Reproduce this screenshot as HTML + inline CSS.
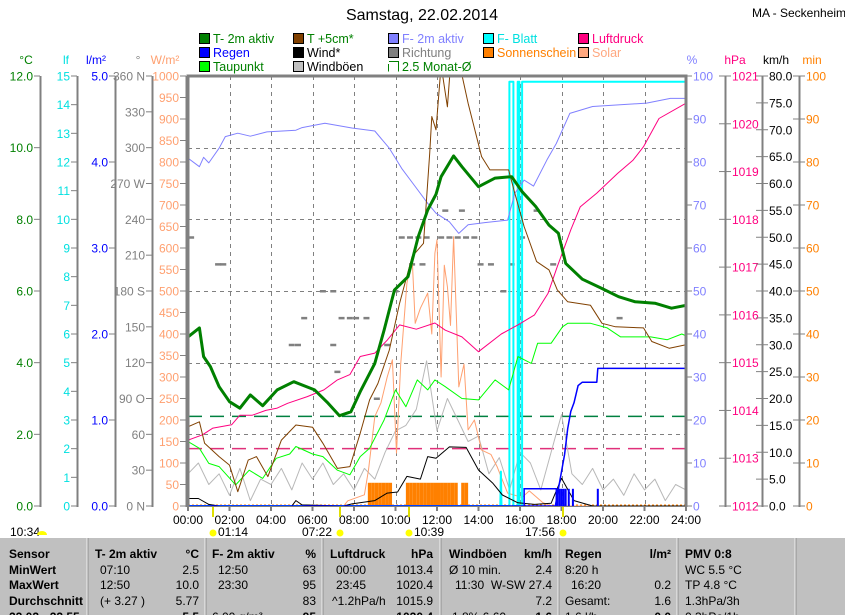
<!DOCTYPE html>
<html><head><meta charset="utf-8"><title>Samstag, 22.02.2014</title>
<style>
html,body{margin:0;padding:0;background:#fff;}
svg{display:block;font-family:"Liberation Sans",sans-serif;}
</style></head>
<body>
<svg id="chart" width="845" height="615" viewBox="0 0 845 615" xmlns="http://www.w3.org/2000/svg">
<defs><clipPath id="pc"><rect x="188" y="76" width="498" height="430"/></clipPath></defs>
<text x="422" y="20" font-size="16" text-anchor="middle">Samstag, 22.02.2014</text>
<text x="752" y="17" font-size="12">MA - Seckenheim</text>
<g id="legend"></g>
<g id="axes"></g>
<g id="plot"></g>
<g id="table"></g>
</svg>
<script>
// ---- data ----
const tempTime=[0,0.55,0.75,1.08,1.5,2,2.5,3,3.6,4.3,5.1,6.1,6.75,7.3,7.85,8.3,9,9.45,9.95,10.6,11.1,11.55,11.95,12.2,12.8,13.2,14,14.8,15.6,16.1,16.75,17.4,17.85,18.2,19,19.95,20.75,21.55,22.5,23.3,24];
const tempVal=[4.72,4.97,4.17,3.89,3.33,2.91,2.73,3.1,2.8,3.24,3.47,3.24,2.87,2.52,2.63,3.19,3.98,4.91,6.03,6.4,7.52,8.26,8.7,9.19,9.77,9.47,8.91,9.15,9.19,8.77,8.36,7.84,7.61,6.77,6.33,6.07,5.84,5.7,5.66,5.52,5.6];
const t5Time=[0,0.55,0.8,1.5,2,2.4,2.9,3.3,3.85,4.5,5.2,6,6.5,7.2,7.8,8.3,8.75,9.15,9.7,10.2,10.8,11.35,11.65,11.75,11.95,12.2,12.5,12.65,13.1,13.5,14.15,14.55,15.45,15.75,16.2,16.8,17.4,17.8,18.3,19.4,19.95,20.6,21.95,22.35,23.2,24];
const t5Val=[2.21,2.35,1.75,1.38,1.14,0.4,1.28,1.38,0.82,1.84,2.26,2.2,1.75,1.05,1.1,2.03,2.96,3.42,4.35,5.66,6.96,7.33,9.84,10.87,10.5,12.3,11.14,12.3,12.3,11.24,9.75,9.38,9.38,8.73,7.8,6.82,6.59,6.03,5.7,5.6,5.1,5.0,4.97,4.59,4.4,4.5];
const humTime=[0,0.55,0.75,1.0,1.5,1.8,2.4,3.0,3.8,5.2,5.5,6.6,7.9,9.0,9.7,10.3,10.95,11.55,11.95,12.6,13.05,13.5,14.3,15.4,15.75,16.2,16.65,17.3,17.75,18.4,19.5,22.1,23.25,24];
const humVal=[80.9,78.9,81.1,79.8,83.2,85.9,86.7,86.0,87,87.4,88,89,87.9,87.2,83.2,78.5,74.3,70.4,68.1,66.1,63.4,65.4,65.9,66.5,72.7,75.8,74.4,80.5,84.3,91.3,92.9,93.7,94.8,94.8];
const presTime=[0,0.7,1.2,2.1,2.5,3.1,3.75,4.3,4.8,5.75,6.55,7.2,7.8,8.3,9.0,9.6,10.2,11.0,11.9,12.4,13.2,14.0,15.1,15.9,16.7,17.35,17.8,18.45,18.9,19.7,20.7,21.45,21.95,22.7,24];
const presVal=[1013.38,1013.49,1013.63,1013.7,1013.9,1013.9,1014.0,1014.05,1014.15,1014.29,1014.43,1014.64,1014.75,1015.13,1015.2,1015.47,1015.79,1015.7,1015.83,1015.68,1015.54,1015.23,1015.6,1015.79,1016.0,1016.45,1017.01,1017.78,1018.26,1018.55,1018.96,1019.24,1019.52,1020.11,1020.43];
const dewTime=[0,0.55,1.0,1.5,2.3,2.95,3.6,4.25,4.9,5.2,6.0,6.5,7.2,7.8,8.3,8.75,9.45,10.0,10.5,11.05,11.55,11.9,12.4,13.2,14.0,14.8,15.45,15.9,16.55,16.85,17.5,18.05,18.3,19.4,20.2,20.85,22.3,23.1,23.8,24];
const dewVal=[1.8,1.61,1.19,1.1,0.59,1.0,0.77,1.33,1.45,1.66,1.45,1.38,1.0,0.87,1.38,1.61,2.4,3.24,2.77,3.52,3.24,3.52,3.33,3.0,2.96,3.52,3.24,4.17,3.98,4.54,4.54,5.0,5.1,5.1,4.97,4.72,4.72,4.64,4.8,4.75];
const windTime=[0,0.5,1.0,1.5,5.0,5.2,5.5,7.5,7.9,9.0,9.6,10.1,10.55,11.2,11.55,11.95,12.6,13.4,14.0,14.7,15.15,15.9,16.7,17.5,18.0,18.6,19.5,24];
const windVal=[1.4,1.4,0.3,0,0,1.0,0.2,0,0.4,1.0,2.4,2.6,5.5,5.0,9.2,8.9,11.0,10.9,6.7,4.2,2.05,0.6,0.3,0.5,5.15,1.0,0,0];
const gustVal=[6,8,4,6,2,7,1,5,4,7,3,8,5,8,4,6,3,7,5,10,14,15,18,27,14,20,16,12,13,6,9,3,10,8,3,10,17,6,4,7,3,5,2,6,3,5,1,4,3];
const solarTime=[0,7.5,7.7,8.5,8.7,9.0,9.3,9.6,9.85,10.05,10.25,10.55,10.8,10.95,11.2,11.55,11.75,11.9,12.0,12.2,12.35,12.5,12.65,12.8,13.05,13.3,13.5,13.8,14.15,14.6,14.9,15.4,16.1,16.45,17.1,17.5,24];
const solarVal=[0,0,12,26,84,208,240,300,340,123,330,518,580,425,460,495,400,588,619,300,560,510,420,626,277,330,177,200,130,120,91,30,20,35,8,0,0];
const sunSlot=[52,53,54,55,56,57,58,63,64,65,66,67,68,69,70,71,72,73,74,75,76,77,79,80];
const sunMin=[5.4,5.4,5.4,5.4,5.4,5.4,5.4,5.4,5.4,5.4,5.4,5.4,5.4,5.4,5.4,5.4,5.4,5.4,5.4,5.4,5.4,5.4,5.4,5.4];
const rainTime=[0,17.7,17.85,18.0,18.15,18.3,18.45,18.6,18.8,19.0,19.7,19.75,24];
const rainVal=[0,0,0.2,0.4,0.6,0.9,1.1,1.2,1.4,1.44,1.44,1.6,1.6];
const rainBarTime=[17.8,17.9,18.0,18.1,18.2,18.35,18.55,19.75];
const rainBarVal=[0.2,0.2,0.2,0.2,0.2,0.2,0.2,0.2];
const leafTime=[0,15.05,15.08,15.11,15.49,15.49,15.68,15.68,15.89,15.89,15.97,15.97,16.1,16.1,24];
const leafVal=[0,0,1.2,0,0,14.8,14.8,0,0,14.8,14.8,0,0,14.8,14.8];
const dirTime=[0.15,1.45,1.7,5.6,6.5,7.0,7.4,5.0,5.3,7.0,7.8,8.1,8.6,7.2,10.3,10.7,11.1,11.5,10.8,11.3,10.0,12.2,12.6,13.0,13.4,13.8,14.1,14.6,15.6,13.2,12.4,16.8,15.2,16.1,20.8,9.1,17.6,9.6];
const dirDeg=[225,202.5,202.5,157.5,180,180,157.5,135,135,135,157.5,157.5,157.5,112.5,225,225,225,225,202.5,202.5,180,225,225,225,225,225,202.5,202.5,202.5,247.5,247.5,247.5,180,225,157.5,90,202.5,135];
const avgTemp=[2.5];
const avgPres=[1013.2];
const hourTicks=["00:00","02:00","04:00","06:00","08:00","10:00","12:00","14:00","16:00","18:00","20:00","22:00","24:00"];

// ---- scales ----
const L=188,R=686,T=76,B=506,H=B-T;
const X=h=>L+h*(R-L)/24;
const lin=(v,a,b)=>B-(v-a)/(b-a)*H;
const yC=v=>lin(v,0,12), yLf=v=>lin(v,0,15), yRn=v=>lin(v,0,5), yDeg=v=>lin(v,0,360),
      yW=v=>lin(v,0,1000), yPct=v=>lin(v,0,100), yP=v=>lin(v,1012,1021), yK=v=>lin(v,0,80), yM=v=>lin(v,0,100);
const NS="http://www.w3.org/2000/svg";
function mk(tag,attrs,parent,text){const e=document.createElementNS(NS,tag);for(const k in attrs)e.setAttribute(k,attrs[k]);if(text!==undefined)e.textContent=text;parent.appendChild(e);return e;}
const axes=document.getElementById('axes'),plot=document.getElementById('plot'),legend=document.getElementById('legend'),table=document.getElementById('table');

// ---- legend ----
const legItems=[["T- 2m aktiv","#008000","#008000",0,0],["T +5cm*","#804000","#008000",1,0],["F- 2m aktiv","#8080ff","#8080ff",2,0],["F- Blatt","#00ffff","#00e0e0",3,0],["Luftdruck","#ff0080","#ff0080",4,0],
["Regen","#0000ff","#0000ff",0,1],["Wind*","#000000","#000",1,1],["Richtung","#808080","#808080",2,1],["Sonnenschein","#ff8000","#ff8000",3,1],["Solar","#ffa880","#ffa880",4,1],
["Taupunkt","#00ff00","#008000",0,2],["Windböen","#c0c0c0","#000",1,2],["2.5 Monat-Ø",null,"#008000",2,2]];
const colX=[199,293,388,483,578];
legItems.forEach(it=>{
  const g=mk('g',{},legend);
  
  
  const x=colX[it[3]],y=33+it[4]*14;
  if(it[1]) mk('rect',{x:x+0.5,y:y+0.5,width:10,height:10,fill:it[1],stroke:'#000'},g);
  else mk('path',{d:`M${x+1},${y+0.5}H${x+10.5}V${y+10.5}M${x+0.5},${y+3}V${y+10.5}`,fill:'none',stroke:'#008000'},g);
  mk('text',{x:x+14,y:y+10,'font-size':12.5,fill:it[2]},g,it[0]);
});

// ---- axes ----
function leftAxis(x,ymap,vals,fmt,color,title,tx,name){
  const g=mk('g',{},axes);
  
  
  mk('line',{x1:x+0.5,y1:T,x2:x+0.5,y2:B+1,stroke:'#808080','stroke-width':2},g);
  vals.forEach(v=>{const y=ymap(v);mk('line',{x1:x-6,y1:y,x2:x,y2:y,stroke:'#808080'},g);
    mk('text',{x:x-7,y:y+4.5,'font-size':12,'text-anchor':'end',fill:color},g,fmt(v));});
  mk('text',{x:tx,y:64,'font-size':12,fill:color,'text-anchor':'middle'},g,title);
}
function rightAxis(x,ymap,vals,fmt,color,title,tx,name,tickLeft){
  const g=mk('g',{},axes);
  
  
  mk('line',{x1:x+0.5,y1:T,x2:x+0.5,y2:B+1,stroke:'#808080','stroke-width':2},g);
  vals.forEach(v=>{const y=ymap(v);mk('line',{x1:tickLeft?x-6:x,y1:y,x2:x+6,y2:y,stroke:'#808080'},g);
    mk('text',{x:x+7,y:y+4.5,'font-size':12,fill:color},g,fmt(v));});
  mk('text',{x:tx,y:64,'font-size':12,fill:color,'text-anchor':'middle'},g,title);
}
const rng=(a,b,s)=>{const r=[];for(let v=a;v<=b+1e-9;v+=s)r.push(+v.toFixed(3));return r;};
leftAxis(40,yC,rng(0,12,2),v=>v.toFixed(1),'#008000','°C',26,'celsius-axis');
leftAxis(77,yLf,rng(0,15,1),v=>String(v),'#00e0e0','lf',66,'leaf-wetness-axis');
leftAxis(115,yRn,rng(0,5,1),v=>v.toFixed(1),'#0000ff','l/m²',96,'rain-axis');
const comp={0:'0 N',90:'90 O',180:'180 S',270:'270 W',360:'360 N'};
leftAxis(152,yDeg,rng(0,360,30),v=>comp[v]||String(v),'#808080','°',138,'direction-axis');
leftAxis(186,yW,rng(0,1000,50),v=>String(v),'#ffa070','W/m²',165,'solar-axis');
rightAxis(686,yPct,rng(0,100,10),v=>String(v),'#8080ff','%',692,'humidity-axis',false);
rightAxis(725,yP,rng(1012,1021,1),v=>String(v),'#ff0080','hPa',735,'pressure-axis',true);
rightAxis(762,yK,rng(0,80,5),v=>v.toFixed(1),'#000','km/h',776,'wind-axis',true);
rightAxis(799,yM,rng(0,100,10),v=>String(v),'#ff8000','min',812,'sunshine-axis',true);

// ---- grid ----
const grid=mk('g',{},plot);


for(let i=1;i<6;i++){const y=Math.round(yC(i*2))+0.5;mk('line',{x1:L,y1:y,x2:R,y2:y,stroke:'#808080','stroke-dasharray':'4,4'},grid);}
for(let i=1;i<12;i++){const x=Math.round(X(i*2))+0.5;mk('line',{x1:x,y1:T,x2:x,y2:B,stroke:'#808080','stroke-dasharray':'4,4'},grid);}
hourTicks.forEach((lab,i)=>{const x=X(i*2);
  const t=mk('text',{x:x,y:524,'font-size':12,'text-anchor':'middle'},plot,lab);
  
  
  mk('line',{x1:x,y1:B,x2:x,y2:B+5,stroke:'#808080','stroke-width':2},plot);});

const cp=mk('g',{'clip-path':'url(#pc)'},plot);
function line(ts,vs,ym,color,w,name){
  const d=ts.map((t,i)=>(i?'L':'M')+X(t).toFixed(1)+','+ym(vs[i]).toFixed(1)).join('');
  const p=mk('path',{d:d,fill:'none',stroke:color,'stroke-width':w,'stroke-linejoin':'round'},cp);
  
  
}
// sunshine bars
sunSlot.forEach((s,i)=>{const x0=X(s/6),x1=X((s+1)/6);
  const r=mk('rect',{x:x0,y:yM(sunMin[i]),width:x1-x0,height:B-yM(sunMin[i]),fill:'#ff8000'},cp);
  
  });
mk('line',{x1:L,y1:B-1,x2:R,y2:B-1,stroke:'#ff8000','stroke-dasharray':'2,2'},cp);
// averages
const a1=mk('line',{x1:L,y1:yC(avgTemp[0]),x2:R,y2:yC(avgTemp[0]),stroke:'#008040','stroke-width':1.5,'stroke-dasharray':'14,8'},cp);


const a2=mk('line',{x1:L,y1:yP(avgPres[0]),x2:R,y2:yP(avgPres[0]),stroke:'#e0307a','stroke-width':1.5,'stroke-dasharray':'14,8'},cp);


// direction dashes
dirTime.forEach((t,i)=>{const r=mk('rect',{x:X(t)-3,y:yDeg(dirDeg[i])-1,width:6,height:2.5,fill:'#808080'},cp);
  
  });
line(gustVal.map((v,i)=>i*0.5),gustVal,yK,'#b8b8b8',1,'gust-line');
line(solarTime,solarVal,yW,'#ffa070',1,'solar-line');
line(leafTime,leafVal,yLf,'#00ffff',2,'leaf-wetness-line');
line(windTime,windVal,yK,'#000',1,'wind-line');
// rain rate box + bars
const rb=mk('path',{d:`M${X(16.2)},${B}V${yRn(0.2)}H${X(17.75)}V${B}`,fill:'none',stroke:'#0000ff','stroke-width':1.5},cp);


rainBarTime.forEach((t,i)=>{const r=mk('rect',{x:X(t)-1,y:yRn(rainBarVal[i]),width:2,height:B-yRn(rainBarVal[i]),fill:'#0000ff'},cp);
  
  });
line(rainTime,rainVal,yRn,'#0000ff',1.5,'rain-cumulative-line');
line(dewTime,dewVal,yC,'#00ff00',1,'dewpoint-line');
line(presTime,presVal,yP,'#ff0080',1,'pressure-line');
line(humTime,humVal,yPct,'#8080ff',1,'humidity-line');
line(t5Time,t5Val,yC,'#804000',1,'temp-5cm-line');
line(tempTime,tempVal,yC,'#008000',3,'temp-2m-line');
// border
mk('path',{d:`M${L},${B}V${T}H${R}V${B}`,fill:'none',stroke:'#808080','stroke-width':3},plot);
mk('line',{x1:L,y1:B+0.5,x2:R,y2:B+0.5,stroke:'#808080'},plot);
// sun markers
const mk2=[[213,"01:14",218,'start'],[340,"07:22",332,'end'],[409,"10:39",414,'start'],[563,"17:56",555,'end']];
mk2.forEach(m=>{const g=mk('g',{},plot);
  
  
  mk('rect',{x:m[0]-1,y:B+1,width:2,height:10,fill:'#e0e000'},g);
  mk('circle',{cx:m[0],cy:533,r:3.5,fill:'#ffff00'},g);
  mk('text',{x:m[2],y:536,'font-size':12,'text-anchor':m[3]},g,m[1]);});
const nt=mk('text',{x:10,y:536,'font-size':12},plot,'10:34');


mk('path',{d:'M37,535a5,4 0 0 1 10,0z',fill:'#ffff00'},plot);

// ---- table ----
mk('rect',{x:0,y:538,width:845,height:77,fill:'#c0c0c0'},table);
[87,205,322,440,558,677,795].forEach(x=>{mk('line',{x1:x,y1:538,x2:x,y2:615,stroke:'#f0f0f0'},table);mk('line',{x1:x+1,y1:538,x2:x+1,y2:615,stroke:'#909090'},table);});
const rowsY=[558,574,589,605,621];
const cells=[
 [9,0,'Sensor','start',1],[9,1,'MinWert','start',1],[9,2,'MaxWert','start',1],[9,3,'Durchschnitt','start',1],[9,4,'22.02 - 22.55','start',1],
 [95,0,'T- 2m aktiv','start',1],[199,0,'°C','end',1],[100,1,'07:10','start',0],[199,1,'2.5','end',0],[100,2,'12:50','start',0],[199,2,'10.0','end',0],[100,3,'(+ 3.27 )','start',0],[199,3,'5.77','end',0],[199,4,'5.5','end',1],
 [212,0,'F- 2m aktiv','start',1],[316,0,'%','end',1],[218,1,'12:50','start',0],[316,1,'63','end',0],[218,2,'23:30','start',0],[316,2,'95','end',0],[316,3,'83','end',0],[212,4,'6.00 g/m³','start',0],[316,4,'95','end',1],
 [330,0,'Luftdruck','start',1],[433,0,'hPa','end',1],[336,1,'00:00','start',0],[433,1,'1013.4','end',0],[336,2,'23:45','start',0],[433,2,'1020.4','end',0],[332,3,'^1.2hPa/h','start',0],[433,3,'1015.9','end',0],[433,4,'1020.4','end',1],
 [449,0,'Windböen','start',1],[552,0,'km/h','end',1],[449,1,'Ø 10 min.','start',0],[552,1,'2.4','end',0],[455,2,'11:30','start',0],[552,2,'W-SW 27.4','end',0],[552,3,'7.2','end',0],[452,4,'1.8% 6.60','start',0],[552,4,'1.6','end',1],
 [565,0,'Regen','start',1],[671,0,'l/m²','end',1],[565,1,'8:20 h','start',0],[571,2,'16:20','start',0],[671,2,'0.2','end',0],[565,3,'Gesamt:','start',0],[671,3,'1.6','end',0],[565,4,'1.6 l/h','start',0],[671,4,'0.0','end',1],
 [685,0,'PMV 0:8','start',1],[685,1,'WC 5.5 °C','start',0],[685,2,'TP 4.8 °C','start',0],[685,3,'1.3hPa/3h','start',0],[685,4,'0.3hPa/1h','start',0]];
cells.forEach(c=>{const t=mk('text',{x:c[0],y:rowsY[c[1]],'font-size':12,'text-anchor':c[3],'font-weight':c[4]?'bold':'normal'},table,c[2]);
  
  });
</script>
</body></html>
